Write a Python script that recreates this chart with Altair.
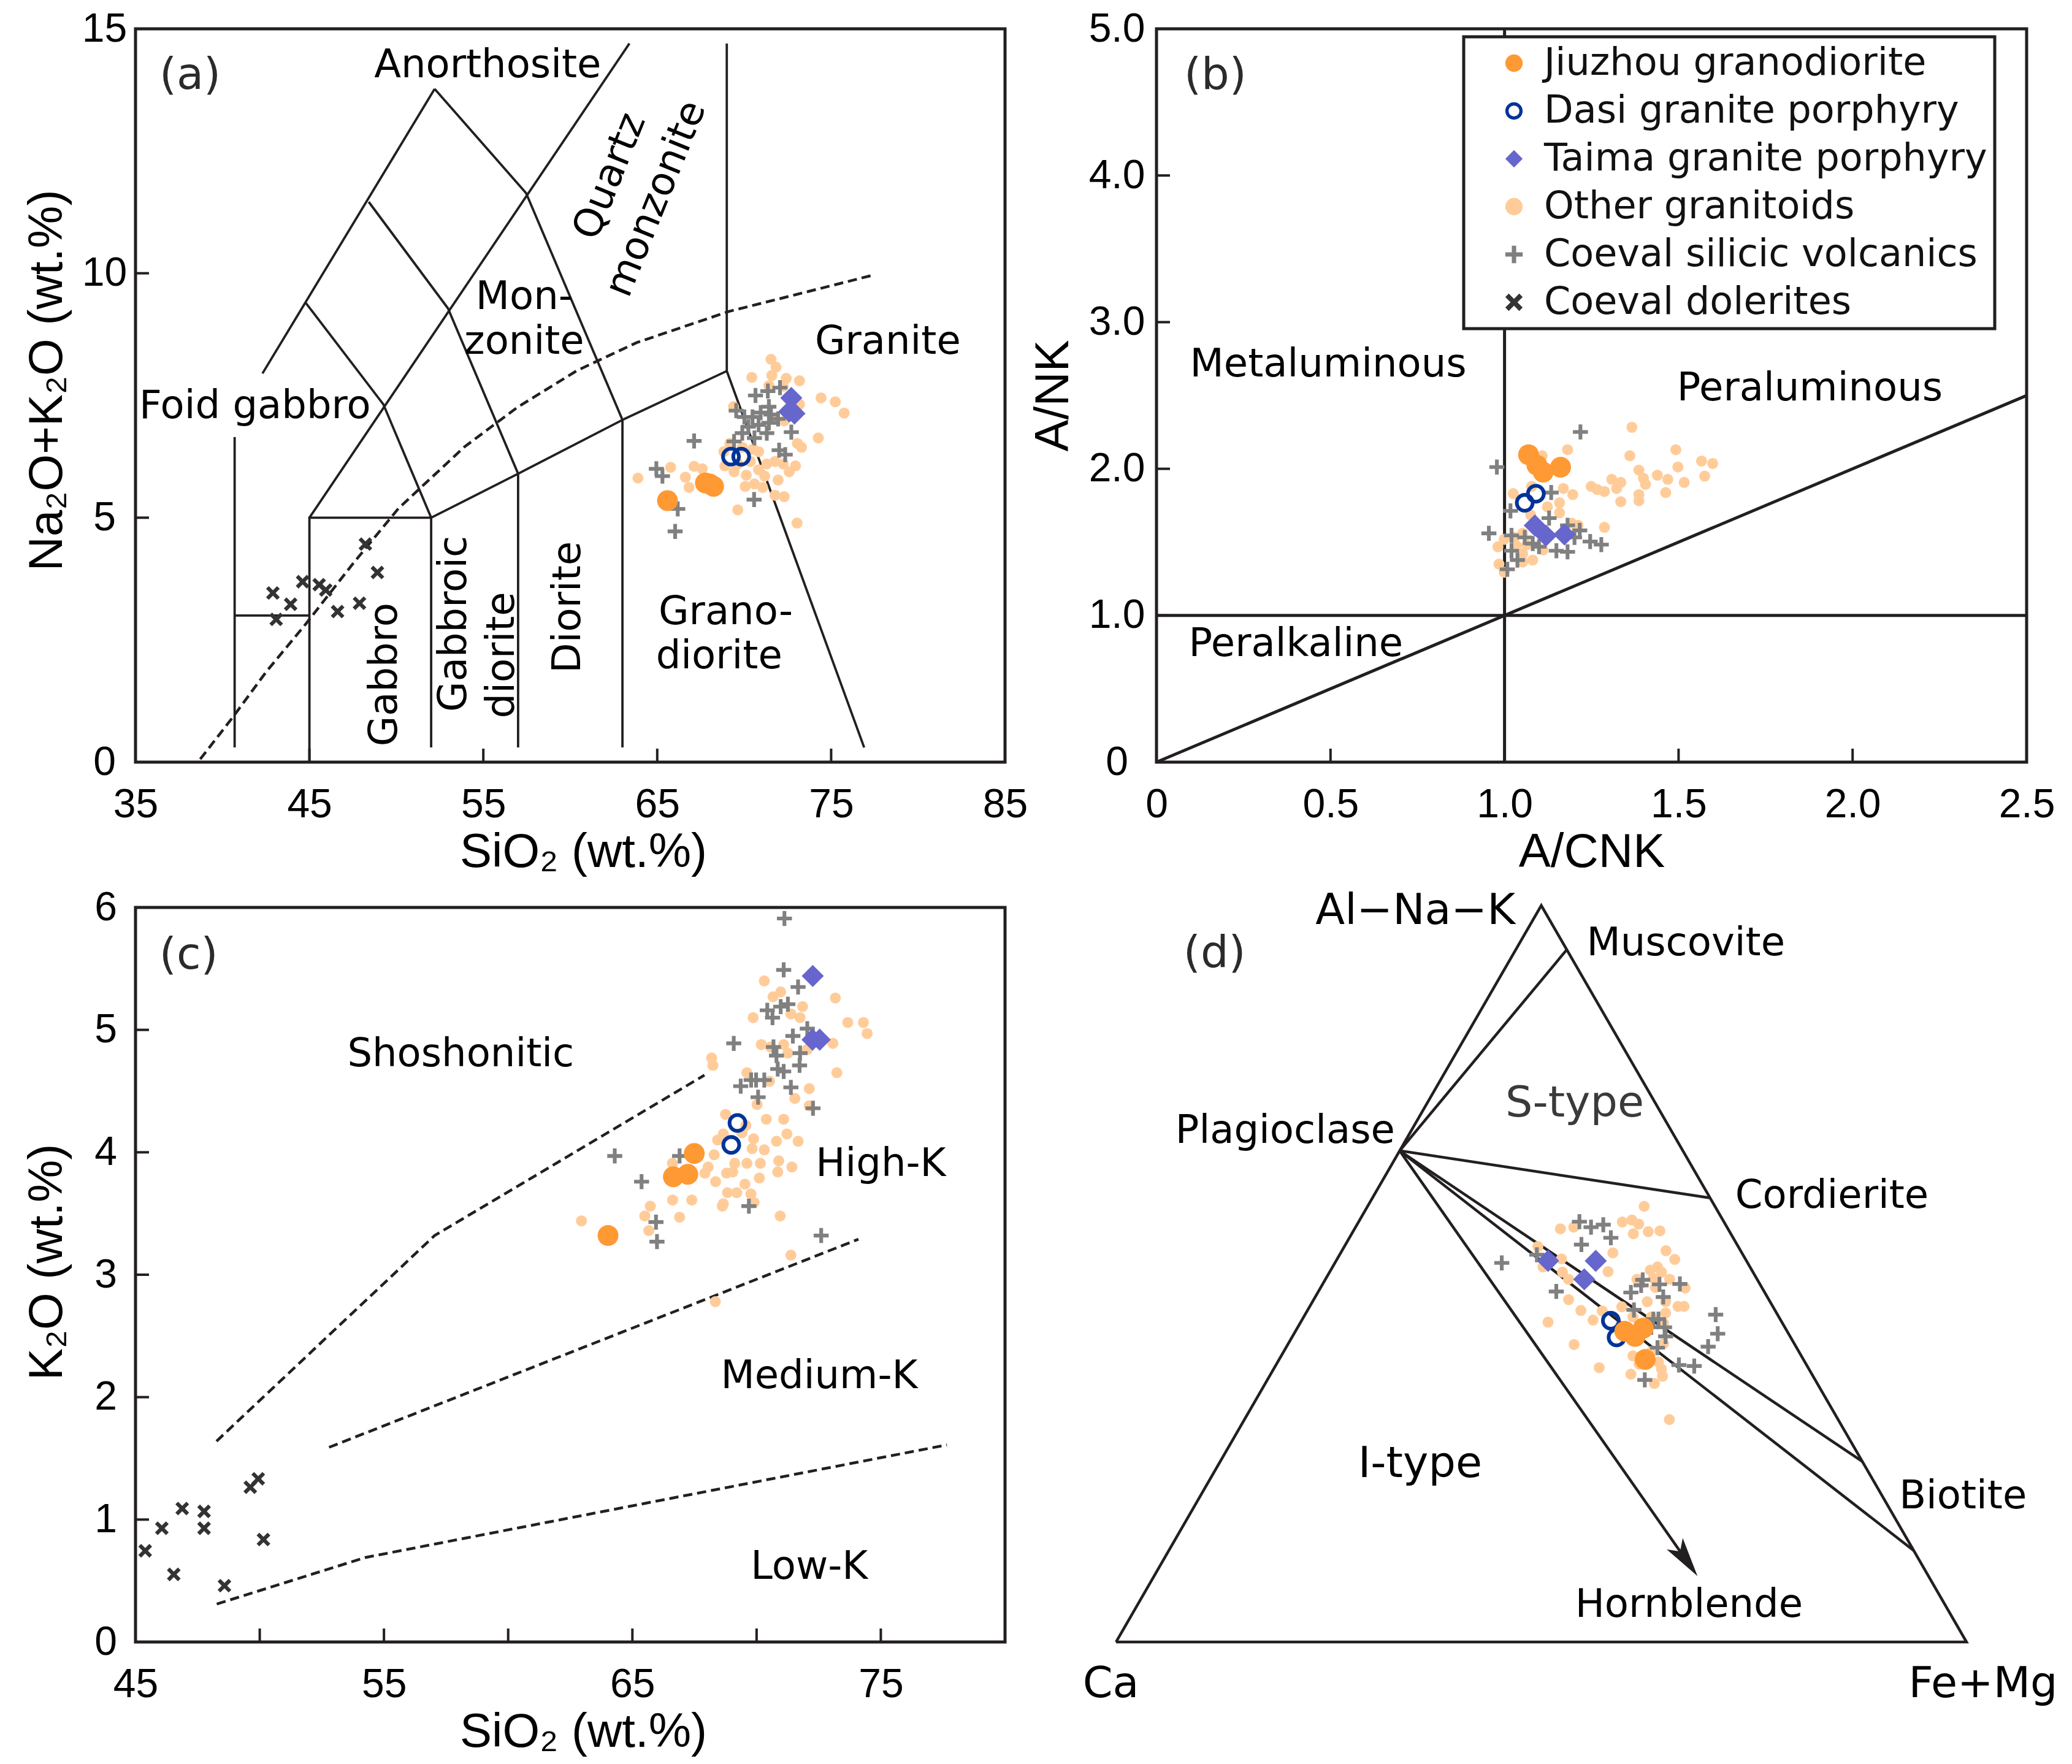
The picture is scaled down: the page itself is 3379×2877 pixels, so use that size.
import altair as alt
import pandas as pd

LINE = "#231F20"
SANS = "Liberation Sans"
WIDE = "DejaVu Sans"

GROUPS = ["Jiuzhou granodiorite", "Dasi granite porphyry", "Taima granite porphyry",
          "Other granitoids", "Coeval silicic volcanics", "Coeval dolerites"]
COLORS = ["#FF9933", "#003399", "#6666CC", "#FFCC99", "#808080", "#333333"]
SIZES = [1156, 1024, 1300, 324, 600, 500]

# ---------------- (a) TAS: SiO2 vs Na2O+K2O ----------------
A_JIUZHOU = [(65.59, 5.35), (67.77, 5.71), (68.01, 5.69), (68.24, 5.64)]
A_DASI = [(69.24, 6.25), (69.83, 6.25)]
A_TAIMA = [(72.71, 7.45), (72.59, 7.17), (72.89, 7.13)]
A_OTHER = [(71.54, 8.24), (71.83, 8.08), (71.59, 7.91), (70.44, 7.87), (72.42, 7.85), (73.18, 7.80),
           (71.42, 7.70), (74.42, 7.45), (75.24, 7.37), (75.75, 7.14), (73.18, 7.32), (69.39, 7.27),
           (72.30, 6.98), (74.26, 6.63), (69.18, 6.52), (70.50, 6.40), (73.06, 6.52), (73.30, 6.44),
           (68.83, 6.35), (68.89, 6.06), (69.42, 5.94), (70.12, 5.87), (70.36, 6.15), (70.83, 5.98),
           (71.30, 6.10), (71.77, 6.15), (72.24, 6.10), (72.95, 6.06), (72.59, 5.94), (71.18, 5.85),
           (71.95, 5.77), (70.06, 5.64), (70.59, 5.69), (71.06, 5.62), (71.77, 5.46), (72.30, 5.43),
           (69.63, 5.16), (73.04, 4.89), (67.12, 6.05), (67.59, 6.00), (65.77, 6.03), (66.62, 5.83),
           (66.83, 5.62), (63.89, 5.81), (69.89, 6.44), (70.83, 6.35), (71.77, 7.02), (72.24, 7.69),
           (69.65, 6.10)]
A_VOLC = [(72.06, 7.66), (70.65, 7.50), (71.36, 7.59), (71.42, 7.27), (69.54, 7.19), (70.01, 7.06),
          (70.48, 7.06), (70.95, 7.15), (71.54, 7.11), (71.95, 7.02), (70.24, 6.86), (70.83, 6.90),
          (71.42, 6.94), (69.89, 6.73), (70.59, 6.63), (71.30, 6.73), (69.42, 6.56), (72.71, 6.75),
          (67.12, 6.57), (72.01, 6.38), (72.36, 6.29), (64.95, 6.00), (65.30, 5.85), (70.57, 5.37),
          (66.18, 5.18), (66.03, 4.72)]
A_DOL = [(42.90, 3.46), (43.92, 3.23), (44.61, 3.69), (43.09, 2.92), (45.56, 3.63), (45.94, 3.52),
         (46.62, 3.08), (47.88, 3.25), (48.22, 4.46), (48.91, 3.88)]
A_FIELD_LINES = [
    [(40.7, 0.3), (40.7, 6.65)],
    [(40.7, 3.0), (45, 3.0)],
    [(45, 0), (45, 5), (52, 5)],
    [(52, 0.3), (52, 5), (57, 5.9), (63, 7), (69, 8)],
    [(57, 0.3), (57, 5.9)],
    [(63, 0.3), (63, 7)],
    [(69, 8), (69, 14.7)],
    [(69, 8), (76.9, 0.3)],
    [(45, 5), (63.4, 14.7)],
    [(42.3, 7.95), (52.2, 13.77)],
    [(52.2, 13.77), (57.46, 11.64), (63, 7)],
    [(44.8, 9.39), (49.25, 7.32), (52, 5)],
    [(48.41, 11.46), (52.97, 9.28), (57, 5.9)],
]
A_DASH = [[(38.72, 0.06), (40.62, 0.93), (42.52, 1.85), (44.80, 2.83), (47.46, 4.04), (50.12, 5.19),
           (53.92, 6.45), (56.97, 7.26), (60.39, 8.01), (63.81, 8.58), (69.13, 9.22), (72.94, 9.56),
           (77.50, 9.97)]]
A_LABELS = [("Anorthosite", 55.25, 14.25), ("Mon-", 57.35, 9.51), ("zonite", 57.35, 8.59),
            ("Granite", 78.26, 8.59), ("Foid gabbro", 41.87, 7.28), ("Grano-", 68.94, 3.06),
            ("diorite", 68.56, 2.16)]
A_LABELS_VERTICAL = [("Gabbro", 49.36, 1.79), ("Gabbroic", 53.35, 2.83), ("diorite", 56.09, 2.19),
                     ("Diorite", 59.89, 3.17)]
A_LABELS_SLANTED = [("Quartz", 62.29, 11.98), ("monzonite", 64.95, 11.52)]
A_TAG = [("(a)", 38.14, 14.05)]
A_XTICKS = [45, 55, 65, 75]
A_YTICKS = [5, 10]

# ---------------- (b) A/CNK vs A/NK ----------------
B_JIUZHOU = [(1.069, 2.096), (1.093, 2.025), (1.111, 1.977), (1.161, 2.011)]
B_DASI = [(1.058, 1.768), (1.090, 1.830)]
B_TAIMA = [(1.087, 1.614), (1.119, 1.545), (1.172, 1.552)]
B_OTHER = [(1.366, 2.283), (1.181, 2.130), (1.108, 2.089), (1.360, 2.089), (1.492, 2.130), (1.566, 2.053),
           (1.598, 2.036), (1.498, 2.012), (1.575, 1.950), (1.386, 1.991), (1.439, 1.956), (1.469, 1.928),
           (1.516, 1.907), (1.463, 1.838), (1.399, 1.936), (1.405, 1.894), (1.386, 1.824), (1.386, 1.782),
           (1.334, 1.776), (1.308, 1.928), (1.334, 1.907), (1.322, 1.866), (1.287, 1.845), (1.249, 1.880),
           (1.266, 1.859), (1.169, 1.866), (1.196, 1.824), (1.158, 1.768), (1.158, 1.699), (1.123, 1.741),
           (1.025, 1.831), (1.287, 1.601), (1.075, 1.685), (1.078, 1.880), (1.193, 1.629), (1.211, 1.615),
           (1.052, 1.560), (0.999, 1.519), (0.981, 1.468), (1.034, 1.475), (1.052, 1.420), (1.081, 1.378),
           (0.984, 1.350), (0.999, 1.295), (1.064, 1.482), (1.111, 1.447), (1.028, 1.533), (1.052, 1.364)]
B_VOLC = [(1.218, 2.251), (0.978, 2.012), (1.134, 1.838), (1.017, 1.713), (1.128, 1.664), (0.955, 1.560),
          (1.020, 1.546), (1.058, 1.532), (1.081, 1.490), (1.099, 1.469), (1.020, 1.441), (1.037, 1.378),
          (1.008, 1.315), (1.149, 1.441), (1.181, 1.434), (1.216, 1.580), (1.201, 1.532), (1.246, 1.504),
          (1.278, 1.483), (1.181, 1.615)]
B_DOL = []
B_LINES = [[(1, 0), (1, 5)], [(0, 1), (2.5, 1)], [(0, 0), (2.5, 2.5)]]
B_LABELS = [("Metaluminous", 0.4935, 2.709), ("Peraluminous", 1.877, 2.544), ("Peralkaline", 0.4005, 0.801)]
B_TAG = [("(b)", 0.169, 4.682)]
B_XTICKS = [0.5, 1.0, 1.5, 2.0]
B_YTICKS = [1, 2, 3, 4]

# ---------------- (c) SiO2 vs K2O ----------------
C_JIUZHOU = [(64.02, 3.32), (66.65, 3.80), (67.23, 3.82), (67.49, 3.99)]
C_DASI = [(69.23, 4.24), (68.98, 4.06)]
C_TAIMA = [(72.26, 5.44), (72.25, 4.92), (72.54, 4.92)]
C_OTHER = [(70.31, 5.40), (70.97, 5.31), (70.66, 5.27), (71.85, 5.19), (71.38, 5.13), (71.75, 5.10),
           (69.86, 5.10), (73.17, 5.26), (73.67, 5.06), (74.30, 5.06), (74.45, 4.97), (70.19, 4.88),
           (70.56, 4.86), (71.09, 4.88), (71.26, 4.81), (72.04, 4.84), (73.07, 4.89), (73.23, 4.65),
           (68.19, 4.77), (68.24, 4.71), (69.61, 4.65), (70.52, 4.58), (72.12, 4.52), (71.54, 4.44),
           (72.12, 4.38), (70.02, 4.39), (68.75, 4.31), (69.57, 4.22), (70.39, 4.27), (71.09, 4.27),
           (71.22, 4.15), (71.67, 4.09), (70.80, 4.09), (70.31, 4.02), (69.88, 4.11), (69.82, 4.03),
           (69.41, 4.16), (68.66, 4.15), (68.43, 4.10), (68.29, 3.98), (69.61, 3.91), (70.15, 3.91),
           (70.89, 3.93), (71.42, 3.88), (70.85, 3.84), (70.11, 3.79), (69.53, 3.74), (69.04, 3.84),
           (68.79, 3.83), (69.12, 3.91), (68.05, 3.88), (67.92, 3.83), (68.35, 3.76), (68.83, 3.67),
           (69.20, 3.67), (69.77, 3.66), (69.90, 3.59), (68.66, 3.58), (68.62, 3.56), (66.61, 3.91),
           (66.62, 3.61), (67.39, 3.61), (66.90, 3.47), (65.72, 3.56), (65.50, 3.48), (65.66, 3.36),
           (62.95, 3.44), (70.95, 3.48), (71.38, 3.16), (68.34, 2.78)]
C_VOLC = [(71.12, 5.91), (71.09, 5.49), (71.67, 5.35), (71.26, 5.21), (70.97, 5.19), (70.43, 5.16),
          (70.64, 5.10), (72.04, 5.01), (71.46, 4.95), (69.08, 4.89), (70.68, 4.86), (71.75, 4.81),
          (70.80, 4.79), (71.73, 4.71), (70.85, 4.68), (71.09, 4.66), (71.38, 4.53), (69.36, 4.54),
          (69.78, 4.59), (69.98, 4.59), (70.31, 4.59), (70.06, 4.45), (72.27, 4.36), (64.29, 3.97),
          (66.90, 3.97), (65.37, 3.76), (69.69, 3.56), (65.95, 3.43), (65.99, 3.27), (72.60, 3.32)]
C_DOL = [(45.39, 0.745), (46.06, 0.929), (46.54, 0.552), (46.88, 1.090), (47.76, 1.067), (47.76, 0.929),
         (48.58, 0.460), (49.62, 1.264), (49.94, 1.333), (50.15, 0.837)]
C_DASH = [
    [(48.26, 1.64), (57.04, 3.32), (67.9, 4.63)],
    [(52.79, 1.59), (74.1, 3.29)],
    [(48.27, 0.31), (54.25, 0.69), (77.66, 1.61)],
]
C_LABELS = [("Shoshonitic", 58.09, 4.80), ("High-K", 75.00, 3.90), ("Medium-K", 72.52, 2.17),
            ("Low-K", 72.12, 0.61)]
C_TAG = [("(c)", 47.14, 5.61)]
C_XTICKS = [50, 55, 60, 65, 70, 75]
C_YTICKS = [1, 2, 3, 4, 5]

# ---------------- (d) ACF ternary: (Al-Na-K fraction, Fe+Mg fraction) ----------------
D_JIUZHOU = [(0.4218, 0.3873), (0.4149, 0.4028), (0.4260, 0.4068), (0.3835, 0.4304)]
D_DASI = [(0.4362, 0.3637), (0.4135, 0.3818)]
D_TAIMA = [(0.5175, 0.2493), (0.5175, 0.3053), (0.4925, 0.3043)]
D_OTHER = [(0.5915, 0.3252), (0.5702, 0.3102), (0.5729, 0.3201), (0.5674, 0.3308), (0.5543, 0.3311),
           (0.5571, 0.3472), (0.5582, 0.3604), (0.5610, 0.2420), (0.5632, 0.2565), (0.5369, 0.2275),
           (0.5092, 0.2474), (0.5202, 0.2636), (0.5022, 0.2738), (0.4925, 0.2858), (0.5283, 0.3200),
           (0.5028, 0.3271), (0.5313, 0.3810), (0.5194, 0.3973), (0.5050, 0.3757), (0.5092, 0.3820),
           (0.5022, 0.3903), (0.4939, 0.3848), (0.4925, 0.4047), (0.4925, 0.3663), (0.4806, 0.4288),
           (0.4814, 0.3935), (0.4620, 0.3936), (0.4620, 0.4152), (0.4556, 0.4329), (0.4556, 0.4401),
           (0.4467, 0.4228), (0.4329, 0.4274), (0.4412, 0.4088), (0.4551, 0.3671), (0.4495, 0.3469),
           (0.4370, 0.3424), (0.4501, 0.3215), (0.4648, 0.2997), (0.4343, 0.2908), (0.4038, 0.3367),
           (0.3724, 0.3819), (0.3636, 0.4236), (0.3511, 0.4574), (0.3608, 0.4622), (0.3705, 0.4561),
           (0.3802, 0.4477), (0.3774, 0.4263), (0.3885, 0.4135), (0.3941, 0.4324), (0.4052, 0.4412),
           (0.4412, 0.3872), (0.3020, 0.4996)]
D_VOLC = [(0.5147, 0.1962), (0.5258, 0.2319), (0.5707, 0.2595), (0.5632, 0.2769), (0.5666, 0.2896),
          (0.5488, 0.3074), (0.5396, 0.2774), (0.4759, 0.2797), (0.4745, 0.3681), (0.4917, 0.3734),
          (0.4842, 0.3753), (0.4856, 0.3962), (0.4861, 0.4199), (0.4684, 0.4092), (0.4509, 0.3835),
          (0.4384, 0.4126), (0.4384, 0.4186), (0.4273, 0.4313), (0.4149, 0.4387), (0.3996, 0.4368),
          (0.4445, 0.4828), (0.4185, 0.4982), (0.4010, 0.4957), (0.3760, 0.4738), (0.3747, 0.4925),
          (0.3558, 0.4438), (0.4273, 0.4157)]
D_DOL = []
D_LINES = [
    [(0, 0), (0, 1), (1, 0), (0, 0)],
    [(0.667, 0), (0.94, 0.06)],
    [(0.667, 0), (0.603, 0.397)],
    [(0.667, 0), (0.245, 0.755)],
    [(0.667, 0), (0.124, 0.876)],
    [(0.667, 0), (0.1067, 0.6198)],
]
D_ARROW_TIP = [(0.0894, 0.639)]
D_LABELS_BIG = [("S-type", 0.5393, 0.6327), ("I-type", 0.3575, 0.2091), ("Ca", -0.0061, -0.0499),
                ("Fe+Mg", 1.0195, -0.0499)]
D_LABEL_APEX = [("Al\u2212Na\u2212K", 0.4694, 0.8597)]
D_LABELS_LEFT = [("Muscovite", 0.5533, 0.8213), ("Cordierite", 0.7281, 0.5245), ("Biotite", 0.9208, 0.1712)]
D_LABELS_RIGHT = [("Plagioclase", 0.328, 0.6009)]
D_LABELS_MID = [("Hornblende", 0.6737, 0.0431)]
D_TAG = [("(d)", 0.1159, 0.810)]


# ---------------- symbols ----------------
def _poly_path(pts):
    return "M" + "L".join(f"{x:.3f},{y:.3f}" for x, y in pts) + "Z"


RING = ("M-1,0A1,1,0,1,0,1,0A1,1,0,1,0,-1,0Z"
        "M-0.62,0A0.62,0.62,0,1,1,0.62,0A0.62,0.62,0,1,1,-0.62,0Z")
_t = 0.25
PLUS = _poly_path([(-1, -_t), (-_t, -_t), (-_t, -1), (_t, -1), (_t, -_t), (1, -_t), (1, _t), (_t, _t),
                   (_t, 1), (-_t, 1), (-_t, _t), (-1, _t)])
_h = 0.28
_a = 2 ** 0.5 - _h
_c = 2 ** -0.5
_xs = [(-_a, -_h), (-_h, -_h), (-_h, -_a), (_h, -_a), (_h, -_h), (_a, -_h), (_a, _h), (_h, _h),
       (_h, _a), (-_h, _a), (-_h, _h), (-_a, _h)]
XMARK = _poly_path([((x - y) * _c, (x + y) * _c) for x, y in _xs])
ARROW = "M0,0L-0.42,-1.7L0,-1.3L0.42,-1.7Z"
SHAPES = ["circle", RING, "diamond", "circle", PLUS, XMARK]

SIZE_EXPR = " : ".join(f"datum.group === '{g}' ? {s}" for g, s in zip(GROUPS[:-1], SIZES[:-1])) + f" : {SIZES[-1]}"

LEGEND = alt.Legend(
    title=None, orient="none", legendX=501, legendY=13,
    labelFont=WIDE, labelFontSize=62, labelLimit=2000, labelColor="#111111",
    padding=12, rowPadding=16, symbolOffset=39, labelOffset=18, symbolSize=800,
    strokeColor=LINE, fillColor="#FFFFFF", symbolStrokeWidth=0, symbolOpacity=1,
)


# ---------------- helpers ----------------
def pts_df(series, cols=("x", "y")):
    rows = []
    for g, arr in series:
        for a, b in arr:
            rows.append({"group": g, cols[0]: a, cols[1]: b})
    return pd.DataFrame(rows, columns=["group", cols[0], cols[1]])


def lines_df(polys, cols=("x", "y")):
    rows = []
    for k, poly in enumerate(polys):
        for j, (a, b) in enumerate(poly):
            rows.append({"seg": k, "ord": j, cols[0]: a, cols[1]: b})
    return pd.DataFrame(rows)


def series_for(jz, ds, tm, ot, vo, do):
    return [(GROUPS[3], ot), (GROUPS[4], vo), (GROUPS[5], do), (GROUPS[2], tm), (GROUPS[1], ds), (GROUPS[0], jz)]


def xenc(dom, vals, title, titleX, expr=None):
    kw = dict(values=vals, title=title, labelFlush=False, labelOverlap=False, labelPadding=37, tickSize=0,
              titleY=170, titleX=titleX, titleBaseline="alphabetic", titleAlign="center")
    if expr:
        kw["labelExpr"] = expr
    return alt.X("x:Q", scale=alt.Scale(domain=dom, nice=False, zero=False), axis=alt.Axis(**kw))


def yenc(dom, vals, title, labpad, titleX, titleY, expr=None):
    kw = dict(values=vals, title=title, labelFlush=False, labelOverlap=False, labelPadding=labpad,
              labelAlign="center", tickSize=0, titleX=titleX, titleY=titleY, titleAngle=270,
              titleBaseline="alphabetic", titleAlign="center")
    if expr:
        kw["labelExpr"] = expr
    return alt.Y("y:Q", scale=alt.Scale(domain=dom, nice=False, zero=False), axis=alt.Axis(**kw))


def point_layer(df, X, Y, legend=None, calc=None):
    ch = alt.Chart(df)
    if calc:
        ch = ch.transform_calculate(**calc)
    ch = ch.transform_calculate(sz=SIZE_EXPR)
    return ch.mark_point(filled=True, opacity=1, strokeWidth=0).encode(
        x=X, y=Y,
        color=alt.Color("group:N", scale=alt.Scale(domain=GROUPS, range=COLORS), legend=legend),
        shape=alt.Shape("group:N", scale=alt.Scale(domain=GROUPS, range=SHAPES), legend=legend),
        size=alt.Size("sz:Q", scale=None),
    )


def line_layer(polys, X, Y, width, dash=None, calc=None, cols=("x", "y")):
    ch = alt.Chart(lines_df(polys, cols))
    if calc:
        ch = ch.transform_calculate(**calc)
    kw = dict(color=LINE, strokeWidth=width, strokeCap="butt")
    if dash:
        kw["strokeDash"] = dash
    return ch.mark_line(**kw).encode(x=X, y=Y, detail="seg:N", order="ord:Q")


def text_layer(rows, X, Y, size=64, angle=None, align="center", font=WIDE, color="#000000"):
    df = pd.DataFrame(rows, columns=["label", "x", "y"])
    kw = dict(font=font, fontSize=size, align=align, baseline="middle")
    if angle is not None:
        kw["angle"] = angle
    if isinstance(color, str):
        kw["color"] = color
        return alt.Chart(df).mark_text(**kw).encode(x=X, y=Y, text="label:N")
    return alt.Chart(df).mark_text(**kw).encode(x=X, y=Y, text="label:N", color=color)


def tick_layers(xt, yt, X, Y, H, L=22):
    tx = alt.Chart(pd.DataFrame({"x": xt})).mark_rule(color=LINE, strokeWidth=4).encode(
        x=X, y=alt.value(H), y2=alt.value(H - L))
    ty = alt.Chart(pd.DataFrame({"y": yt})).mark_rule(color=LINE, strokeWidth=4).encode(
        y=Y, x=alt.value(0), x2=alt.value(L))
    return [tx, ty]


DASH = [15, 8]

# ---------------- panel (a) ----------------
WA, HA = 1418, 1196
XA = xenc([35, 85], [35, 45, 55, 65, 75, 85], "SiO\u2082 (wt.%)", 730)
YA = yenc([0, 15], [0, 5, 10, 15], "Na\u2082O+K\u2082O (wt.%)", 51, -121, 573)
panel_a = alt.layer(
    line_layer(A_FIELD_LINES, XA, YA, 3.8),
    line_layer(A_DASH, XA, YA, 4.5, dash=DASH),
    *tick_layers(A_XTICKS, A_YTICKS, XA, YA, HA),
    point_layer(pts_df(series_for(A_JIUZHOU, A_DASI, A_TAIMA, A_OTHER, A_VOLC, A_DOL)), XA, YA),
    text_layer(A_LABELS, XA, YA),
    text_layer(A_LABELS_VERTICAL, XA, YA, angle=270),
    text_layer(A_LABELS_SLANTED, XA, YA, angle=292),
    text_layer(A_TAG, XA, YA, size=72, color="#2b2b2b"),
).properties(width=WA, height=HA)

# ---------------- panel (b) ----------------
WB, HB = 1419, 1196
FMT1 = "datum.value == 0 ? '0' : format(datum.value, '.1f')"
XB = xenc([0, 2.5], [0, 0.5, 1.0, 1.5, 2.0, 2.5], "A/CNK", WB / 2, FMT1)
YB = yenc([0, 5], [0, 1, 2, 3, 4, 5], "A/NK", 65, -145, HB / 2, FMT1)
panel_b = alt.layer(
    line_layer(B_LINES, XB, YB, 5),
    *tick_layers(B_XTICKS, B_YTICKS, XB, YB, HB),
    point_layer(pts_df(series_for(B_JIUZHOU, B_DASI, B_TAIMA, B_OTHER, B_VOLC, B_DOL)), XB, YB, legend=LEGEND),
    text_layer(B_LABELS, XB, YB),
    text_layer(B_TAG, XB, YB, size=72, color="#2b2b2b"),
).properties(width=WB, height=HB)

# ---------------- panel (c) ----------------
WC, HC = 1418, 1198
XC = xenc([45, 80], [45, 55, 65, 75], "SiO\u2082 (wt.%)", 730)
YC = yenc([0, 6], [0, 1, 2, 3, 4, 5, 6], "K\u2082O (wt.%)", 49, -121, 578)
panel_c = alt.layer(
    line_layer(C_DASH, XC, YC, 4.5, dash=DASH),
    *tick_layers(C_XTICKS, C_YTICKS, XC, YC, HC),
    point_layer(pts_df(series_for(C_JIUZHOU, C_DASI, C_TAIMA, C_OTHER, C_VOLC, C_DOL)), XC, YC),
    text_layer(C_LABELS, XC, YC),
    text_layer(C_TAG, XC, YC, size=72, color="#2b2b2b"),
).properties(width=WC, height=HC)

# ---------------- panel (d) ----------------
# panel cell sits under (b); the triangle (1387 px per unit) starts 66 px left of the cell
WD, HD = 1419, 1198
U0 = 66 / 1387
TERN = {"x": "datum.F + datum.A / 2", "y": "datum.A * 0.8660254"}
XD = alt.X("x:Q", scale=alt.Scale(domain=[U0, U0 + WD / 1387], nice=False, zero=False), axis=None)
YD = alt.Y("y:Q", scale=alt.Scale(domain=[0, HD / 1387], nice=False, zero=False), axis=None)
arrow = alt.Chart(pd.DataFrame(D_ARROW_TIP, columns=["A", "F"])).transform_calculate(**TERN).mark_point(
    shape=ARROW, size=5776, filled=True, color=LINE, opacity=1, strokeWidth=0, angle=324.9
).encode(x=XD, y=YD)
panel_d = alt.layer(
    line_layer(D_LINES, XD, YD, 4.5, calc=TERN, cols=("A", "F")),
    arrow,
    point_layer(pts_df(series_for(D_JIUZHOU, D_DASI, D_TAIMA, D_OTHER, D_VOLC, D_DOL), cols=("A", "F")),
                XD, YD, calc=TERN),
    text_layer(D_LABELS_BIG, XD, YD, size=70,
               color=alt.condition(alt.datum.label == "S-type", alt.value("#3a3a3a"), alt.value("#000000"))),
    text_layer(D_LABEL_APEX, XD, YD, size=70, align="right"),
    text_layer(D_LABELS_LEFT, XD, YD, size=64, align="left"),
    text_layer(D_LABELS_RIGHT, XD, YD, size=64, align="right"),
    text_layer(D_LABELS_MID, XD, YD, size=64),
    text_layer(D_TAG, XD, YD, size=72, color="#2b2b2b"),
).properties(width=WD, height=HD, view=alt.ViewBackground(stroke="transparent"))

chart = alt.concat(
    panel_a, panel_b, panel_c, panel_d, columns=2,
    spacing={"row": 237, "column": 247}, bounds="flush",
).resolve_scale(color="independent", shape="independent").properties(
    padding={"left": 27, "top": 3, "right": 5, "bottom": 5}
).configure_view(stroke=LINE, strokeWidth=5).configure_axis(
    grid=False, domain=False, ticks=False,
    labelFont=SANS, labelFontSize=66, labelColor="#000000",
    titleFont=SANS, titleFontSize=78, titleFontWeight="normal", titleColor="#000000",
).configure_legend(strokeWidth=5)

chart.save("out.html", embed_options={"renderer": "svg", "actions": False})
